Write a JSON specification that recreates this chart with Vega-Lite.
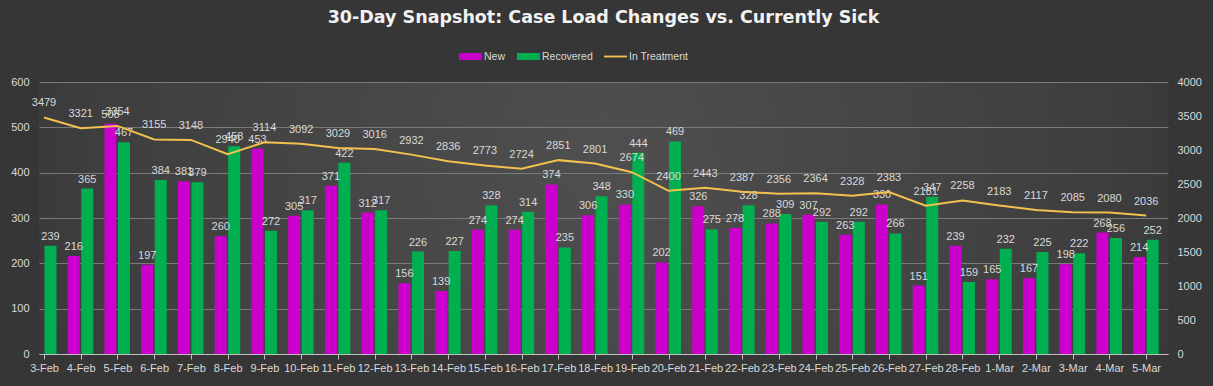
{
  "$schema": "https://vega.github.io/schema/vega-lite/v6.json",
  "width": 1129,
  "height": 272,
  "autosize": "none",
  "padding": {"left": 39, "top": 82, "right": 45, "bottom": 32},
  "background": "#363636",
  "title": {
    "text": "30-Day Snapshot:  Case Load Changes vs. Currently Sick",
    "font": "DejaVu Sans",
    "fontSize": 17.5,
    "fontWeight": "bold",
    "color": "#f2f2f2",
    "anchor": "middle",
    "frame": "group",
    "offset": 19
  },
  "config": {
    "view": {
      "stroke": null,
      "fill": {
        "gradient": "radial",
        "x1": 0.5, "y1": 0.45, "r1": 0,
        "x2": 0.5, "y2": 0.45, "r2": 0.75,
        "stops": [
          {"offset": 0, "color": "#4f4f4f"},
          {"offset": 0.6, "color": "#3e3e3e"},
          {"offset": 1, "color": "#2a2a2a"}
        ]
      }
    },
    "axis": {
      "labelColor": "#d9d9d9",
      "labelFont": "Liberation Sans",
      "labelFontSize": 11,
      "titleColor": "#d9d9d9"
    }
  },
  "data": {
    "values": [
      {"date": "2021-02-03", "New": null, "Recovered": 239, "InTreatment": 3479},
      {"date": "2021-02-04", "New": 216, "Recovered": 365, "InTreatment": 3321},
      {"date": "2021-02-05", "New": 508, "Recovered": 467, "InTreatment": 3354},
      {"date": "2021-02-06", "New": 197, "Recovered": 384, "InTreatment": 3155},
      {"date": "2021-02-07", "New": 381, "Recovered": 379, "InTreatment": 3148},
      {"date": "2021-02-08", "New": 260, "Recovered": 458, "InTreatment": 2940},
      {"date": "2021-02-09", "New": 453, "Recovered": 272, "InTreatment": 3114},
      {"date": "2021-02-10", "New": 305, "Recovered": 317, "InTreatment": 3092},
      {"date": "2021-02-11", "New": 371, "Recovered": 422, "InTreatment": 3029},
      {"date": "2021-02-12", "New": 312, "Recovered": 317, "InTreatment": 3016},
      {"date": "2021-02-13", "New": 156, "Recovered": 226, "InTreatment": 2932},
      {"date": "2021-02-14", "New": 139, "Recovered": 227, "InTreatment": 2836},
      {"date": "2021-02-15", "New": 274, "Recovered": 328, "InTreatment": 2773},
      {"date": "2021-02-16", "New": 274, "Recovered": 314, "InTreatment": 2724},
      {"date": "2021-02-17", "New": 374, "Recovered": 235, "InTreatment": 2851},
      {"date": "2021-02-18", "New": 306, "Recovered": 348, "InTreatment": 2801},
      {"date": "2021-02-19", "New": 330, "Recovered": 444, "InTreatment": 2674},
      {"date": "2021-02-20", "New": 202, "Recovered": 469, "InTreatment": 2400},
      {"date": "2021-02-21", "New": 326, "Recovered": 275, "InTreatment": 2443},
      {"date": "2021-02-22", "New": 278, "Recovered": 328, "InTreatment": 2387},
      {"date": "2021-02-23", "New": 288, "Recovered": 309, "InTreatment": 2356},
      {"date": "2021-02-24", "New": 307, "Recovered": 292, "InTreatment": 2364},
      {"date": "2021-02-25", "New": 263, "Recovered": 292, "InTreatment": 2328},
      {"date": "2021-02-26", "New": 330, "Recovered": 266, "InTreatment": 2383},
      {"date": "2021-02-27", "New": 151, "Recovered": 347, "InTreatment": 2181},
      {"date": "2021-02-28", "New": 239, "Recovered": 159, "InTreatment": 2258},
      {"date": "2021-03-01", "New": 165, "Recovered": 232, "InTreatment": 2183},
      {"date": "2021-03-02", "New": 167, "Recovered": 225, "InTreatment": 2117},
      {"date": "2021-03-03", "New": 198, "Recovered": 222, "InTreatment": 2085},
      {"date": "2021-03-04", "New": 268, "Recovered": 256, "InTreatment": 2080},
      {"date": "2021-03-05", "New": 214, "Recovered": 252, "InTreatment": 2036}
    ]
  },
  "encoding": {
    "x": {
      "field": "date",
      "type": "temporal",
      "scale": {
        "type": "utc",
        "domain": [
          {"year": 2021, "month": 2, "date": 3, "utc": true},
          {"year": 2021, "month": 3, "date": 5, "hours": 11, "utc": true}
        ]
      },
      "axis": {
        "title": null,
        "labelExpr": "utcFormat(datum.value, '%-d-%b')",
        "tickCount": {"interval": "day", "step": 1},
        "labelOverlap": false,
        "grid": false,
        "domainColor": "#bfbfbf",
        "tickColor": "#bfbfbf",
        "tickSize": 5,
        "labelPadding": 3,
        "labelFlush": false
      }
    }
  },
  "layer": [
    {
      "encoding": {
        "y": {
          "type": "quantitative",
          "scale": {"domain": [0, 600], "nice": false},
          "axis": {
            "title": null,
            "values": [0, 100, 200, 300, 400, 500, 600],
            "domain": false,
            "ticks": false,
            "labelPadding": 10,
            "grid": true,
            "gridColor": "#7a7a7a",
            "gridWidth": 1
          }
        }
      },
      "layer": [
        {
          "mark": {"type": "bar", "width": 12, "xOffset": -7},
          "encoding": {
            "y": {"field": "New", "type": "quantitative"},
            "color": {
              "datum": "New",
              "type": "nominal",
              "scale": {
                "domain": ["New", "Recovered", "In Treatment"],
                "range": ["#CC00CC", "#00B050", "#F2C14E"]
              },
              "legend": {
                "orient": "none",
                "legendX": 420,
                "legendY": -37,
                "direction": "horizontal",
                "title": null,
                "labelColor": "#d9d9d9",
                "labelFont": "Liberation Sans",
                "labelFontSize": 10.5,
                "symbolSize": 529,
                "columnPadding": 11,
                "labelOffset": 2,
                "symbolStrokeWidth": 0,
                "encode": {
                  "symbols": {
                    "update": {
                      "shape": {"signal": "datum.value === 'In Treatment' ? 'M-1,-0.08H1V0.08H-1Z' : 'M-1,-0.3H1V0.3H-1Z'"},
                      "fill": {"signal": "scale('color', datum.value)"},
                      "fillOpacity": {"value": 1},
                      "strokeWidth": {"value": 0}
                    }
                  }
                }
              }
            }
          }
        },
        {
          "mark": {"type": "bar", "width": 12, "xOffset": 6.5},
          "encoding": {
            "y": {"field": "Recovered", "type": "quantitative"},
            "color": {"datum": "Recovered", "type": "nominal"}
          }
        },
        {
          "mark": {"type": "text", "xOffset": -7, "dy": -9, "color": "#d9d9d9", "font": "Liberation Sans", "fontSize": 11},
          "encoding": {
            "y": {"field": "New", "type": "quantitative"},
            "text": {"field": "New", "type": "quantitative"}
          }
        },
        {
          "mark": {"type": "text", "xOffset": 6.5, "dy": -9, "color": "#d9d9d9", "font": "Liberation Sans", "fontSize": 11},
          "encoding": {
            "y": {"field": "Recovered", "type": "quantitative"},
            "text": {"field": "Recovered", "type": "quantitative"}
          }
        }
      ]
    },
    {
      "encoding": {
        "y": {
          "field": "InTreatment",
          "type": "quantitative",
          "scale": {"domain": [0, 4000], "nice": false},
          "axis": {
            "title": null,
            "orient": "right",
            "format": "d",
            "values": [0, 500, 1000, 1500, 2000, 2500, 3000, 3500, 4000],
            "domain": false,
            "ticks": false,
            "grid": false,
            "labelPadding": 9
          }
        }
      },
      "layer": [
        {
          "mark": {"type": "line", "strokeWidth": 2},
          "encoding": {
            "color": {"datum": "In Treatment", "type": "nominal"}
          }
        },
        {
          "mark": {"type": "text", "dy": -14, "color": "#d9d9d9", "font": "Liberation Sans", "fontSize": 11},
          "encoding": {
            "text": {"field": "InTreatment", "type": "quantitative"}
          }
        }
      ]
    }
  ],
  "resolve": {"scale": {"y": "independent"}}
}
